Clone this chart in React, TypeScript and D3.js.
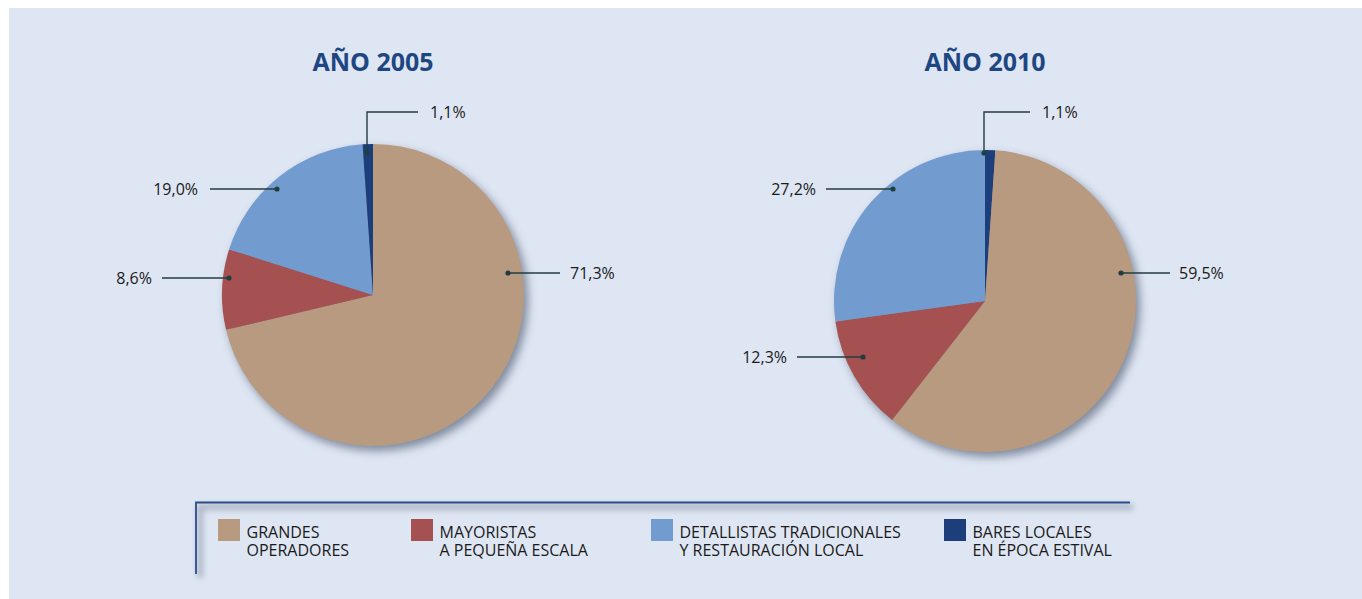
import React from "react";
import * as d3 from "d3";

const categories = [
  "GRANDES OPERADORES",
  "MAYORISTAS A PEQUEÑA ESCALA",
  "DETALLISTAS TRADICIONALES Y RESTAURACIÓN LOCAL",
  "BARES LOCALES EN ÉPOCA ESTIVAL",
];
const legendLines = [
  ["GRANDES", "OPERADORES"],
  ["MAYORISTAS", "A PEQUEÑA ESCALA"],
  ["DETALLISTAS TRADICIONALES", "Y RESTAURACIÓN LOCAL"],
  ["BARES LOCALES", "EN ÉPOCA ESTIVAL"],
];
const colors = ["#b79a80", "#a55152", "#729cd0", "#1c3e7a"];

const years = ["AÑO 2005", "AÑO 2010"];
const values2005 = [71.3, 8.6, 19.0, 1.1];
const values2010 = [59.5, 12.3, 27.2, 1.1];
const labels2005 = ["71,3%", "8,6%", "19,0%", "1,1%"];
const labels2010 = ["59,5%", "12,3%", "27,2%", "1,1%"];
// slice drawing order (clockwise from 12 o'clock), as index into categories
const order2005 = [0, 1, 2, 3];
const order2010 = [3, 0, 1, 2];

const FONT = "'Open Sans', sans-serif";
const LINE = "#223d40";
const TEXT = "#1a1a1a";

type Leader = {
  dot: [number, number];
  pts: [number, number][];
  text: [number, number];
  anchor: "start" | "end";
};

const leaders2005: Leader[] = [
  { dot: [508, 273], pts: [[560, 273]], text: [570, 273], anchor: "start" },
  { dot: [229, 278], pts: [[162, 278]], text: [152, 278], anchor: "end" },
  { dot: [277, 189], pts: [[210, 189]], text: [198, 189], anchor: "end" },
  { dot: [367, 153], pts: [[367, 112], [418, 112]], text: [430, 112], anchor: "start" },
];
const leaders2010: Leader[] = [
  { dot: [1121, 273], pts: [[1170, 273]], text: [1179, 273], anchor: "start" },
  { dot: [863, 357], pts: [[797, 357]], text: [787, 357], anchor: "end" },
  { dot: [893, 189], pts: [[826, 189]], text: [816, 189], anchor: "end" },
  { dot: [984, 153], pts: [[984, 112], [1030, 112]], text: [1042, 112], anchor: "start" },
];

function Pie({ cx, cy, r, values, order, title, labels, leaders }: any) {
  const data = order.map((i: number) => ({ i, v: values[i] }));
  const arcs = d3
    .pie<any>()
    .sort(null)
    .value((d: any) => d.v)
    .startAngle(0)
    .endAngle(2 * Math.PI)(data);
  const arc = d3.arc<any>().innerRadius(0).outerRadius(r);
  return (
    <g>
      <text
        x={cx}
        y={71}
        textAnchor="middle"
        fontFamily={FONT}
        fontWeight={700}
        fontSize={25}
        fill="#1e4682"
      >
        {title}
      </text>
      <circle cx={cx + 4} cy={cy + 5} r={r} fill="#5d6a80" opacity={0.75} filter="url(#pieShadow)" />
      <g transform={`translate(${cx},${cy})`}>
        {arcs.map((a: any) => (
          <path key={a.data.i} d={arc(a) as string} fill={colors[a.data.i]} />
        ))}
      </g>
      {leaders.map((l: Leader, k: number) => {
        const pts = [l.dot, ...l.pts];
        const line = d3.line()(pts as any) as string;
        return (
          <g key={k}>
            <path d={line} fill="none" stroke={LINE} strokeWidth={1.4} />
            <circle cx={l.dot[0]} cy={l.dot[1]} r={2.6} fill={LINE} />
            <text
              x={l.text[0]}
              y={l.text[1] + 5.8}
              textAnchor={l.anchor}
              fontFamily={FONT}
              fontSize={16}
              fill={TEXT}
            >
              {labels[k]}
            </text>
          </g>
        );
      })}
    </g>
  );
}

export default function App() {
  const legendX = [218, 411, 651, 944];
  return (
    <svg
      width={1362}
      height={599}
      style={{ position: "absolute", left: 0, top: 0, background: "#ffffff" }}
    >
      <defs>
        <filter id="pieShadow" x="-20%" y="-20%" width="140%" height="140%">
          <feGaussianBlur stdDeviation="5" />
        </filter>
        <filter id="lineShadow" x="-5%" y="-100%" width="110%" height="300%">
          <feGaussianBlur stdDeviation="3" />
        </filter>
      </defs>
      <rect x={9} y={8} width={1353} height={591} fill="#dfe6f3" />
      <Pie
        cx={373}
        cy={295}
        r={151}
        values={values2005}
        order={order2005}
        title={years[0]}
        labels={labels2005}
        leaders={leaders2005}
      />
      <Pie
        cx={985}
        cy={301}
        r={151}
        values={values2010}
        order={order2010}
        title={years[1]}
        labels={labels2010}
        leaders={leaders2010}
      />
      {/* legend frame */}
      <path
        d="M200,578 L200,507 L1133,507"
        fill="none"
        stroke="#6e7a8e"
        strokeWidth={5}
        opacity={0.55}
        filter="url(#lineShadow)"
      />
      <path d="M196,574 L196,502.5 L1130,502.5" fill="none" stroke="#2b4c8a" strokeWidth={1.8} />
      {categories.map((c, i) => (
        <g key={c}>
          <rect x={legendX[i]} y={519} width={22} height={22} fill={colors[i]} />
          <text
            x={legendX[i] + 28.5}
            y={538}
            fontFamily={FONT}
            fontSize={16}
            fill={TEXT}
          >
            {legendLines[i].map((t, j) => (
              <tspan key={j} x={legendX[i] + 28.5} dy={j === 0 ? 0 : 18}>
                {t}
              </tspan>
            ))}
          </text>
        </g>
      ))}
    </svg>
  );
}
